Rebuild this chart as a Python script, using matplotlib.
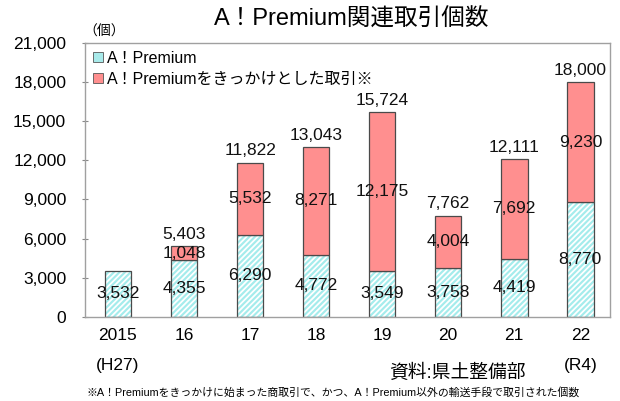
import matplotlib
matplotlib.use("Agg")
import matplotlib.pyplot as plt
from matplotlib.patches import Patch

plt.rcParams['font.family'] = ['Liberation Sans', 'Noto Sans CJK JP', 'DejaVu Sans']
plt.rcParams['hatch.linewidth'] = 1.3

years = ["2015\n(H27)", "16", "17", "18", "19", "20", "21", "22\n(R4)"]
premium = [3532, 4355, 6290, 4772, 3549, 3758, 4419, 8770]
triggered = [0, 1048, 5532, 8271, 12175, 4004, 7692, 9230]
totals = [None, 5403, 11822, 13043, 15724, 7762, 12111, 18000]
yticks = [0, 3000, 6000, 9000, 12000, 15000, 18000, 21000]

cyan = '#a4ecec'
red = '#ff8f8f'
edge = '#4a4a4a'

fig = plt.figure(figsize=(6.2, 4.01), dpi=100)
ax = fig.add_axes([0.137, 0.21, 0.847, 0.683])

x = list(range(len(years)))
w = 0.4
ax.bar(x, premium, width=w, color=cyan, edgecolor='white', hatch='//////', linewidth=0)
ax.bar(x, premium, width=w, fill=False, edgecolor=edge, linewidth=0.9)
trig_x = [xi for xi, t in zip(x, triggered) if t > 0]
trig_v = [t for t in triggered if t > 0]
trig_b = [p for p, t in zip(premium, triggered) if t > 0]
ax.bar(trig_x, trig_v, bottom=trig_b, width=w, color=red, edgecolor=edge, linewidth=0.9)

fs = 12.5
for xi, p, t, tot in zip(x, premium, triggered, totals):
    ax.text(xi, p / 2, f"{p:,}", ha='center', va='center', fontsize=fs, color='#111111')
    if t > 0:
        ax.text(xi, p + t / 2, f"{t:,}", ha='center', va='center', fontsize=fs, color='#111111')
    if tot is not None:
        ax.annotate(f"{tot:,}", (xi, p + t), xytext=(0, 3), textcoords='offset points',
                    ha='center', va='bottom', fontsize=fs, color='#111111')

ax.set_xlim(-0.5, 7.45)
ax.set_ylim(0, 21000)
ax.set_yticks(yticks)
ax.set_yticklabels([f"{v:,}" for v in yticks], fontsize=fs)
ax.tick_params(axis='y', direction='inout', length=5, color='#888888', pad=11)
ax.set_xticks(x)
ax.set_xticklabels(years, fontsize=fs, linespacing=2.25)
ax.tick_params(axis='x', length=0, pad=8)
for s in ax.spines.values():
    s.set_color('#a0a0a0')
    s.set_linewidth(1.0)

handles = [Patch(facecolor='#a8eaea', edgecolor='#555555', linewidth=0.6),
           Patch(facecolor=red, edgecolor='#555555', linewidth=0.6)]
ax.legend(handles, ['A！Premium', 'A！Premiumをきっかけとした取引※'], loc='upper left',
          frameon=False, fontsize=11.5, handlelength=0.6, handleheight=0.6, handletextpad=0.3,
          borderaxespad=0.1, labelspacing=0.35, bbox_to_anchor=(0.0, 1.0))

fig.text(0.567, 0.95, 'A！Premium関連取引個数', ha='center', va='center', fontsize=17)
fig.text(0.135, 0.922, '（個）', ha='left', va='center', fontsize=10)
fig.text(0.738, 0.07, '資料:県土整備部', ha='center', va='center', fontsize=13.5)
fig.text(0.537, 0.022, '※A！Premiumをきっかけに始まった商取引で、かつ、A！Premium以外の輸送手段で取引された個数',
         ha='center', va='center', fontsize=7.8)

fig.savefig('out.png', dpi=100)
